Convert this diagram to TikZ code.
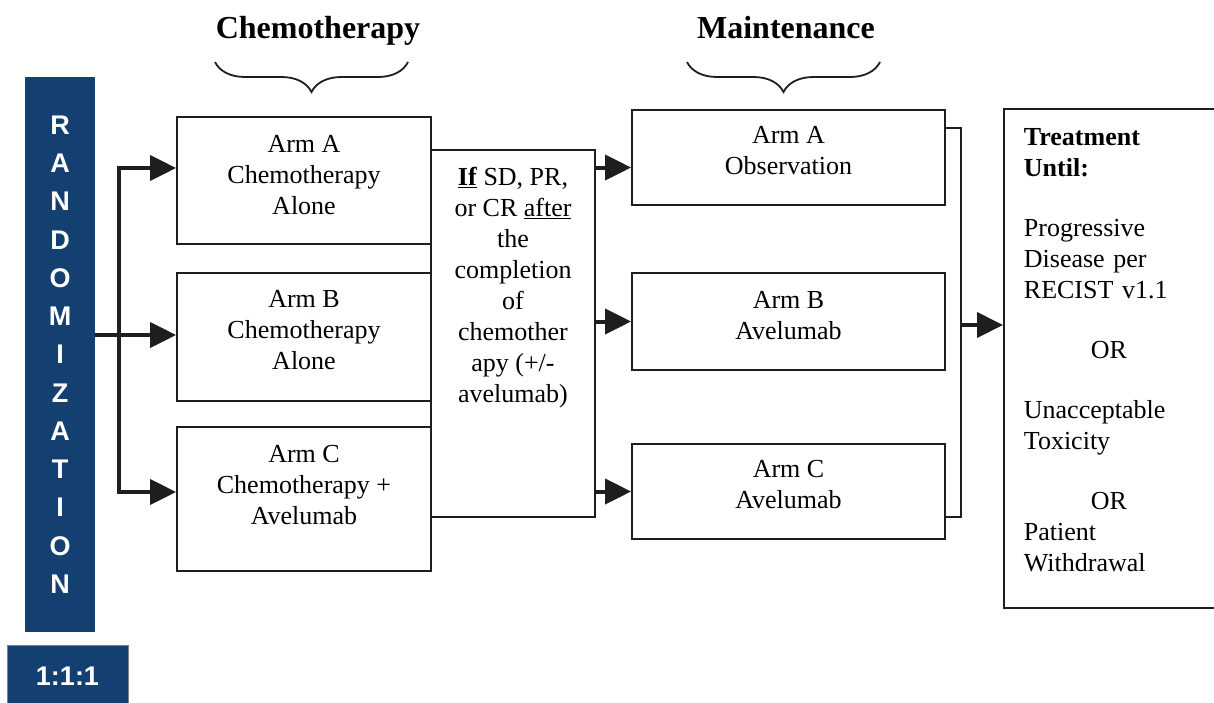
\documentclass[tikz,border=0pt]{standalone}
\usepackage{fontspec}
\setmainfont{Liberation Serif}
\newfontfamily\randfont{Liberation Sans}
\usetikzlibrary{arrows.meta,decorations.pathreplacing,calc}

\definecolor{randblue}{RGB}{20,64,113}
\definecolor{linedark}{RGB}{30,30,30}

% extra depth below the last line, lifts the text in its box
\newcommand{\dpad}[1]{\rule[-#1]{0pt}{#1}}

\tikzset{
  headtext/.style={font=\bfseries\fontsize{32}{38}\selectfont, inner sep=0pt, anchor=base},
  bracestyle/.style={draw=linedark, line width=1.8pt, decorate,
    decoration={brace, amplitude=30pt, aspect=0.5}},
  randbox/.style={fill=randblue, text=white, align=center, inner sep=0pt,
    font=\randfont\bfseries\fontsize{27}{38.25}\selectfont},
  ratiobox/.style={fill=randblue, draw=gray, line width=1pt, text=white,
    font=\randfont\bfseries\fontsize{27}{32}\selectfont},
  armbox/.style={draw=linedark, line width=1.8pt, align=center, inner sep=0pt,
    font=\fontsize{26}{31}\selectfont},
  condtext/.style={align=center, inner sep=0pt, font=\fontsize{26}{31}\selectfont},
  finalbox/.style={draw=linedark, line width=1.8pt, align=left, inner sep=0pt,
    font=\fontsize{26}{31}\selectfont},
  arr/.style={draw=linedark, line width=4pt, -{Triangle[length=26pt,width=25pt]}},
  arrboth/.style={draw=linedark, line width=4pt,
    {Triangle[length=26pt,width=25pt]}-{Triangle[length=26pt,width=25pt]}},
  joinline/.style={draw=linedark, line width=1.8pt}
}

\begin{document}
\begin{tikzpicture}[x=1pt, y=-1pt]
\useasboundingbox (0,0) rectangle (1214,702);

% headings
\node[headtext] (chemohead) at (318,38) {Chemotherapy};
\node[headtext] (mainthead) at (786,38) {Maintenance};
\draw[bracestyle] (408,62) -- (215,62);
\draw[bracestyle] (880,62) -- (687,62);

% randomization
\node[randbox, minimum width=70, minimum height=555] (rand) at (60,354.5)
  {R\\A\\N\\D\\O\\M\\I\\Z\\A\\T\\I\\O\\N};
\node[ratiobox, minimum width=121, minimum height=62] (ratio) at (67.5,676) {1:1:1};

% chemotherapy arms
\node[armbox, minimum width=254, minimum height=127] (armA) at (304,180.5)
  {Arm A\\Chemotherapy\\Alone\dpad{12pt}};
\node[armbox, minimum width=254, minimum height=128] (armB) at (304,337)
  {Arm B\\Chemotherapy\\Alone\dpad{14pt}};
\node[armbox, minimum width=254, minimum height=144] (armC) at (304,499)
  {Arm C\\Chemotherapy +\\Avelumab\dpad{28pt}};

% condition
\node[armbox, minimum width=164, minimum height=367] (condbox) at (513,333.5) {};
\node[condtext, anchor=north] (cond) at ([yshift=-18pt]condbox.north)
  {\underline{\textbf{If}} SD, PR,\\or CR \underline{after}\\the\\completion\\of\\chemother\\apy (+/-\\avelumab)};

% maintenance arms
\node[armbox, minimum width=313, minimum height=95] (maintA) at (788.5,157.5)
  {Arm A\\Observation\dpad{15pt}};
\node[armbox, minimum width=313, minimum height=97] (maintB) at (788.5,321.5)
  {Arm B\\Avelumab\dpad{12pt}};
\node[armbox, minimum width=313, minimum height=95] (maintC) at (788.5,491.5)
  {Arm C\\Avelumab\dpad{15pt}};

% end of treatment
\node[finalbox, anchor=north west, minimum width=220, minimum height=499, text width=180]
  (final) at (1003,108)
  {\textbf{Treatment}\\\textbf{Until:}\\[29pt]
   Progressive\\Disease per\\RECIST v1.1\\[29pt]
   \hspace*{67pt}OR\\[29pt]
   Unacceptable\\Toxicity\\[29pt]
   \hspace*{67pt}OR\\Patient\\Withdrawal\dpad{16pt}};

% connectors
\coordinate (splitA) at (119,168);
\coordinate (splitB) at (119,335);
\coordinate (splitC) at (119,492);
\draw[arr] (rand.east |- splitB) -- (armB.west |- splitB);
\draw[arrboth] (armA.west |- splitA) -- (splitA) -- (splitC) -- (armC.west |- splitC);

\coordinate (toA) at ([yshift=-10pt]maintA.west);
\draw[arr] (condbox.east |- toA) -- (toA);
\draw[arr] (condbox.east |- maintB.west) -- (maintB.west);
\draw[arr] (condbox.east |- maintC.west) -- (maintC.west);

\coordinate (jtop) at (961,128);
\coordinate (jmid) at (961,325);
\coordinate (jbot) at (961,517);
\draw[joinline] (maintA.east |- jtop) -- (jtop) -- (jbot) -- (maintC.east |- jbot);
\draw[arr] (jmid) -- (final.west |- jmid);
\end{tikzpicture}
\end{document}
